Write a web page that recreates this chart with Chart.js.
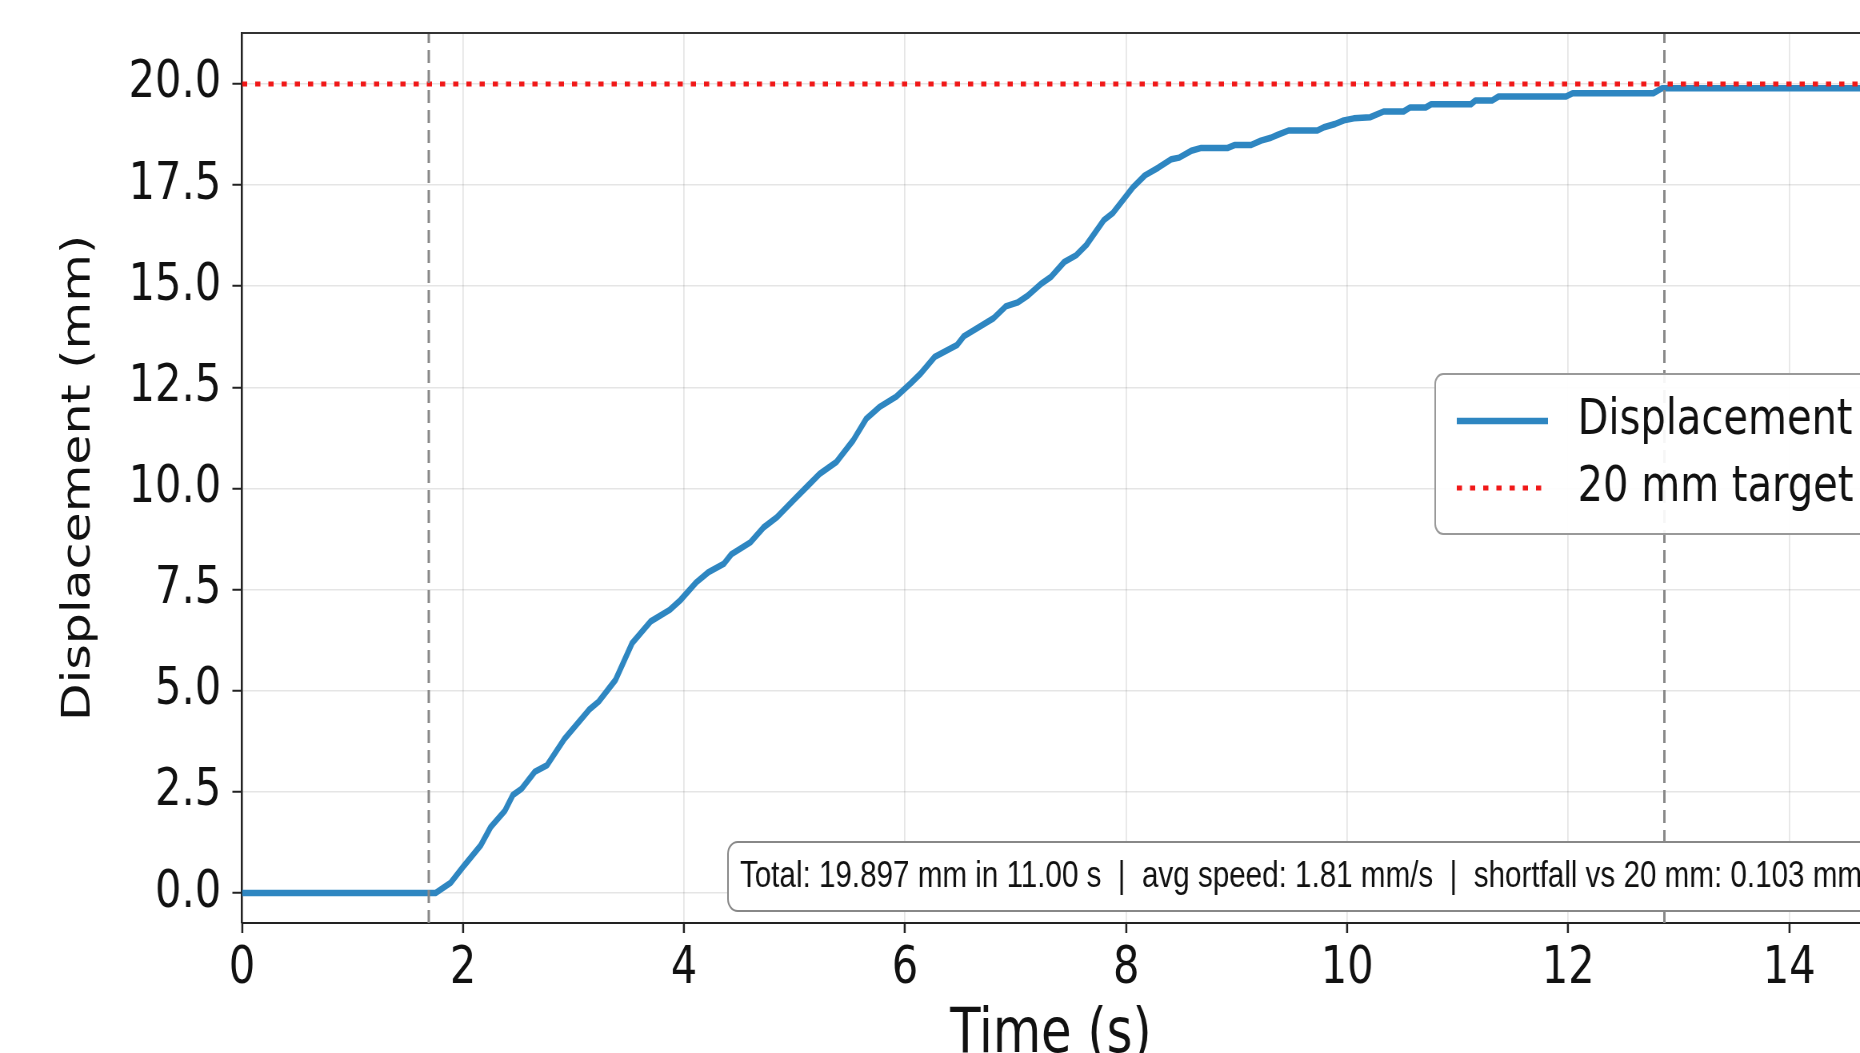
<!DOCTYPE html>
<html>
<head>
<meta charset="utf-8">
<title>Displacement vs time</title>
<script src="https://cdn.jsdelivr.net/npm/chart.js@4.4.1/dist/chart.umd.min.js"></script>
<style>
  html, body { margin: 0; padding: 0; background: #fff; overflow: hidden; }
  #chart { display: block; }
</style>
</head>
<body>
<!-- canvas is drawn 25% wider and squeezed back to 1860px, like the narrow lettering of the reference -->
<canvas id="chart" width="2325" height="1053" style="width:1860px;height:1053px"></canvas>
<script>
// time (s) and displacement (mm)
const timeS = [
  0, 1.75, 1.89, 2.01, 2.16, 2.25, 2.38, 2.45, 2.53, 2.65,
  2.76, 2.92, 3.14, 3.23, 3.38, 3.53, 3.70, 3.87, 3.97, 4.11,
  4.22, 4.36, 4.43, 4.60, 4.72, 4.84, 4.99, 5.11, 5.23, 5.38,
  5.53, 5.65, 5.77, 5.92, 6.05, 6.14, 6.27, 6.47, 6.53, 6.80,
  6.91, 7.02, 7.11, 7.23, 7.32, 7.44, 7.55, 7.64, 7.80, 7.88,
  8.06, 8.17, 8.29, 8.41, 8.48, 8.59, 8.68, 8.92, 8.98, 9.13,
  9.22, 9.31, 9.37, 9.47, 9.73, 9.79, 9.89, 9.97, 10.06, 10.21,
  10.33, 10.51, 10.57, 10.71, 10.76, 11.12, 11.16, 11.31, 11.37, 11.98,
  12.04, 12.77, 12.85, 15.00
];
const dispMm = [
  0, 0, 0.26, 0.68, 1.18, 1.63, 2.04, 2.42, 2.58, 3.00,
  3.16, 3.82, 4.53, 4.74, 5.27, 6.18, 6.72, 7.00, 7.25, 7.68,
  7.93, 8.14, 8.38, 8.67, 9.04, 9.29, 9.71, 10.04, 10.37, 10.66,
  11.19, 11.73, 12.02, 12.27, 12.60, 12.84, 13.26, 13.55, 13.76, 14.21,
  14.50, 14.60, 14.77, 15.06, 15.23, 15.60, 15.77, 16.02, 16.64, 16.81,
  17.44, 17.74, 17.93, 18.14, 18.18, 18.35, 18.42, 18.42, 18.49, 18.49,
  18.60, 18.67, 18.74, 18.85, 18.85, 18.93, 19.01, 19.10, 19.15, 19.18,
  19.32, 19.32, 19.42, 19.42, 19.50, 19.50, 19.59, 19.59, 19.69, 19.69,
  19.77, 19.77, 19.897, 19.897
];
const markerTimes = [1.69, 12.87];   // start / end of the move
const targetMm = 20;
const moveTimeS = 11.0;
const xTicks = [0, 2, 4, 6, 8, 10, 12, 14];
const yTicks = [0, 2.5, 5, 7.5, 10, 12.5, 15, 17.5, 20];
const xRange = [0, 14.64];
const yRange = [-0.74, 21.26];

const FONT = '"DejaVu Sans", sans-serif';

const datasets = [
  {
    label: 'Displacement',
    inLegend: true,
    data: timeS.map((t, i) => ({ x: t, y: dispMm[i] })),
    borderColor: '#2e86c1',
    borderWidth: 6.5,
    borderJoinStyle: 'round',
    order: 3
  },
  {
    label: targetMm + ' mm target',
    inLegend: true,
    data: xRange.map(x => ({ x: x, y: targetMm })),
    borderColor: '#f01818',
    borderWidth: 5,
    borderDash: [6.5, 10],
    order: 2
  }
];
markerTimes.forEach(t => {
  datasets.push({
    label: 'marker',
    data: yRange.map(y => ({ x: t, y: y })),
    borderColor: '#888',
    borderWidth: 3,
    borderDash: [13, 7],
    order: 1
  });
});

const total = dispMm[dispMm.length - 1];
const note = 'Total: ' + total.toFixed(3) + ' mm in ' + moveTimeS.toFixed(2) + ' s  |  avg speed: ' +
  (total / moveTimeS).toFixed(2) + ' mm/s  |  shortfall vs ' + targetMm + ' mm: ' +
  (targetMm - total).toFixed(3) + ' mm';

// top spine, legend box and the summary box
const overlay = {
  id: 'overlay',
  afterDraw(chart) {
    const ctx = chart.ctx;
    const area = chart.chartArea;
    ctx.save();
    ctx.strokeStyle = '#333';
    ctx.lineWidth = 2;
    ctx.beginPath();
    ctx.moveTo(area.left, area.top);
    ctx.lineTo(area.right, area.top);
    ctx.stroke();

    // legend
    ctx.beginPath();
    ctx.roundRect(1794, 374, 800, 160, 10);
    ctx.fillStyle = 'rgba(255,255,255,0.92)';
    ctx.fill();
    ctx.strokeStyle = '#999';
    ctx.lineWidth = 2;
    ctx.stroke();
    chart.data.datasets.filter(d => d.inLegend).forEach((ds, i) => {
      const y = 421 + i * 67;
      ctx.strokeStyle = ds.borderColor;
      ctx.lineWidth = ds.borderWidth;
      ctx.setLineDash(ds.borderDash || []);
      ctx.beginPath();
      ctx.moveTo(1821, y);
      ctx.lineTo(1935, y);
      ctx.stroke();
      ctx.setLineDash([]);
      ctx.fillStyle = '#111';
      ctx.font = '50px ' + FONT;
      ctx.textBaseline = 'middle';
      ctx.textAlign = 'left';
      ctx.fillText(ds.label, 1972, y);
    });

    // summary
    ctx.beginPath();
    ctx.roundRect(910, 842, 1600, 69, 12);
    ctx.fillStyle = '#fff';
    ctx.fill();
    ctx.strokeStyle = '#888';
    ctx.lineWidth = 2;
    ctx.stroke();
    ctx.fillStyle = '#111';
    ctx.font = '37px "Liberation Sans", sans-serif';
    ctx.textBaseline = 'middle';
    ctx.fillText(note, 925, 877);
    ctx.restore();
  }
};

new Chart(document.getElementById('chart'), {
  type: 'line',
  data: { datasets: datasets },
  options: {
    responsive: false,
    animation: false,
    devicePixelRatio: 1,
    layout: { padding: { top: 33, left: 0, right: 0, bottom: 0 } },
    plugins: { legend: { display: false }, tooltip: { enabled: false } },
    elements: { point: { radius: 0 }, line: { tension: 0 } },
    scales: {
      x: {
        type: 'linear',
        min: xRange[0],
        max: xRange[1],
        afterBuildTicks: s => { s.ticks = xTicks.map(v => ({ value: v })); },
        afterFit: s => { s.height = 130; s.paddingLeft = 0; s.paddingRight = 0; },
        ticks: {
          color: '#111', font: { family: FONT, size: 52 }, padding: 5,
          maxRotation: 0, autoSkip: false, callback: v => String(v)
        },
        grid: { color: 'rgba(0,0,0,0.1)', lineWidth: 1.8, tickColor: '#222', tickWidth: 2.5, tickLength: 10 },
        border: { color: '#222', width: 2 },
        title: {
          display: true, text: 'Time (s)', color: '#111',
          font: { family: FONT, size: 62, lineHeight: 0.5 }, padding: { top: 0, bottom: 2 }
        }
      },
      y: {
        min: yRange[0],
        max: yRange[1],
        afterBuildTicks: s => { s.ticks = yTicks.map(v => ({ value: v })); },
        afterFit: s => { s.width = 302.5; s.paddingTop = 0; s.paddingBottom = 0; },
        ticks: {
          color: '#111', font: { family: FONT, size: 52 }, padding: 14,
          autoSkip: false, callback: v => v.toFixed(1)
        },
        grid: { color: 'rgba(0,0,0,0.1)', lineWidth: 1.5, tickColor: '#222', tickWidth: 2, tickLength: 12 },
        border: { color: '#222', width: 2.5 },
        title: {
          display: true, text: 'Displacement (mm)', color: '#111',
          font: { family: FONT, size: 49 }, padding: { top: 70, bottom: 0 }
        }
      }
    }
  },
  plugins: [overlay]
});
</script>
</body>
</html>
